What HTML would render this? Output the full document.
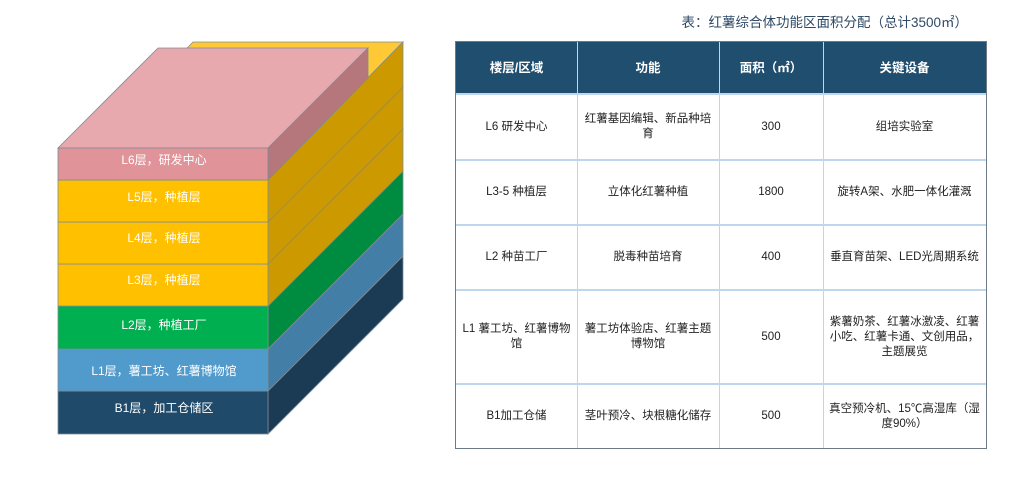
<!DOCTYPE html>
<html><head><meta charset="utf-8"><style>
body{margin:0;width:1024px;height:502px;background:#fff;overflow:hidden;position:relative;font-family:"Liberation Sans","Noto Sans CJK SC",sans-serif}
.t{position:absolute;font-size:11.5px;color:#222;display:flex;align-items:center;justify-content:center;text-align:center;line-height:15px;box-sizing:border-box;padding:0 6px}
.h{color:#fff;font-weight:bold;font-size:12.5px}
.vl{position:absolute;width:1px;background:#bdd7ee}
.hl{position:absolute;height:2px;background:#bdd7ee;left:456px;width:530px}
</style></head><body>
<svg width="1024" height="502" style="position:absolute;left:0;top:0" font-family="Liberation Sans, Noto Sans CJK SC, sans-serif">
<g stroke="#7d8c96" stroke-width="0.8">
<polygon points="268,391 403,256 403,299 268,434" fill="#1b3b55"/>
<rect x="58" y="391" width="210" height="43" fill="#1f4a6a"/>
<polygon points="268,349 403,214 403,256 268,391" fill="#427ea6"/>
<rect x="58" y="349" width="210" height="42" fill="#519acc"/>
<polygon points="268,306 403,171 403,214 268,349" fill="#008c40"/>
<rect x="58" y="306" width="210" height="43" fill="#00b050"/>
<polygon points="268,264 403,129 403,171 268,306" fill="#cc9a00"/>
<rect x="58" y="264" width="210" height="42" fill="#ffc000"/>
<polygon points="268,222 403,87 403,129 268,264" fill="#cc9a00"/>
<rect x="58" y="222" width="210" height="42" fill="#ffc000"/>
<polygon points="58,180 193,42 403,42 268,180" fill="#ffc935"/>
<polygon points="268,180 403,42 403,87 268,222" fill="#cc9a00"/>
<rect x="58" y="180" width="210" height="42" fill="#ffc000"/>
<polygon points="58,148 158,48 368,48 268,148" fill="#e8a9ae"/>
<polygon points="268,148 368,48 368,78 268,180" fill="#b5777b"/>
<rect x="58" y="148" width="210" height="32" fill="#e0949a"/>
</g>
<g fill="#fff" font-size="12" text-anchor="middle">
<text x="164" y="164">L6层，研发中心</text>
<text x="164" y="201">L5层，种植层</text>
<text x="164" y="242">L4层，种植层</text>
<text x="164" y="284">L3层，种植层</text>
<text x="164" y="329">L2层，种植工厂</text>
<text x="164" y="375">L1层，薯工坊、红薯博物馆</text>
<text x="164" y="412">B1层，加工仓储区</text>
</g>
</svg>
<div style="position:absolute;left:620px;top:11px;width:348px;text-align:right;font-size:13.5px;color:#2e4a66">表：红薯综合体功能区面积分配（总计3500㎡）</div>
<div style="position:absolute;left:455px;top:41px;width:532px;height:408px;border:1px solid #6e7a86;box-sizing:border-box"></div>
<div style="position:absolute;left:456px;top:42px;width:530px;height:52px;background:#1f4e6e"></div>
<div class="vl" style="left:577px;top:42px;height:406px"></div>
<div class="vl" style="left:719px;top:42px;height:406px"></div>
<div class="vl" style="left:823px;top:42px;height:406px"></div>
<div class="hl" style="top:93px"></div>
<div class="hl" style="top:159px"></div>
<div class="hl" style="top:224px"></div>
<div class="hl" style="top:289px"></div>
<div class="hl" style="top:383px"></div>
<div class="t h" style="left:456px;top:42px;width:121px;height:52px">楼层/区域</div>
<div class="t h" style="left:577px;top:42px;width:142px;height:52px">功能</div>
<div class="t h" style="left:719px;top:42px;width:104px;height:52px">面积（㎡）</div>
<div class="t h" style="left:823px;top:42px;width:163px;height:52px">关键设备</div>

<div class="t" style="left:456px;top:95px;width:121px;height:64px">L6 研发中心</div>
<div class="t" style="left:577px;top:95px;width:142px;height:64px">红薯基因编辑、新品种培育</div>
<div class="t" style="left:719px;top:95px;width:104px;height:64px">300</div>
<div class="t" style="left:823px;top:95px;width:163px;height:64px">组培实验室</div>

<div class="t" style="left:456px;top:161px;width:121px;height:63px">L3-5 种植层</div>
<div class="t" style="left:577px;top:161px;width:142px;height:63px">立体化红薯种植</div>
<div class="t" style="left:719px;top:161px;width:104px;height:63px">1800</div>
<div class="t" style="left:823px;top:161px;width:163px;height:63px">旋转A架、水肥一体化灌溉</div>

<div class="t" style="left:456px;top:226px;width:121px;height:63px">L2 种苗工厂</div>
<div class="t" style="left:577px;top:226px;width:142px;height:63px">脱毒种苗培育</div>
<div class="t" style="left:719px;top:226px;width:104px;height:63px">400</div>
<div class="t" style="left:823px;top:226px;width:163px;height:63px;padding:0 3px">垂直育苗架、LED光周期系统</div>

<div class="t" style="left:456px;top:291px;width:121px;height:92px;padding:0 3px">L1 薯工坊、红薯博物馆</div>
<div class="t" style="left:577px;top:291px;width:142px;height:92px">薯工坊体验店、红薯主题博物馆</div>
<div class="t" style="left:719px;top:291px;width:104px;height:92px">500</div>
<div class="t" style="left:823px;top:291px;width:163px;height:92px;padding:0 4px">紫薯奶茶、红薯冰激凌、红薯小吃、红薯卡通、文创用品，主题展览</div>

<div class="t" style="left:456px;top:385px;width:121px;height:63px">B1加工仓储</div>
<div class="t" style="left:577px;top:385px;width:142px;height:63px;padding:0 4px">茎叶预冷、块根糖化储存</div>
<div class="t" style="left:719px;top:385px;width:104px;height:63px">500</div>
<div class="t" style="left:823px;top:385px;width:163px;height:63px;padding:0 4px">真空预冷机、15℃高湿库（湿度90%）</div>
</body></html>
